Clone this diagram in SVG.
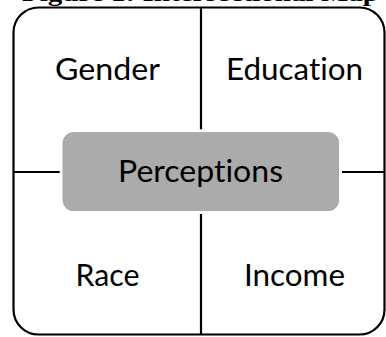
<svg xmlns="http://www.w3.org/2000/svg" width="386" height="337" viewBox="0 0 386 337">
<style>
.frame{fill:none;stroke:#000;stroke-width:2.2}
.line{stroke:#000;stroke-width:2.2;fill:none}
.lbl{font-family:Lato,"Liberation Sans",sans-serif;font-size:30px;fill:#000;text-anchor:middle;font-variant-ligatures:none}
.title{font-family:"Liberation Serif",serif;font-weight:bold;font-size:24px;fill:#000}
</style>
<rect width="386" height="337" fill="#fff"/>
<text class="title" x="22" y="0.8" textLength="357" lengthAdjust="spacingAndGlyphs">Figure 1: Intersectional Map</text>
<g id="frame">
<rect class="frame" x="13.5" y="7.5" width="371" height="327" rx="25" ry="25"/>
</g>
<g id="connectors">
<line class="line" x1="201" y1="7.5" x2="201" y2="334.5"/>
<line class="line" x1="13.5" y1="172" x2="384.5" y2="172"/>
</g>
<g id="gender"><text class="lbl" x="107.5" y="80" textLength="105" lengthAdjust="spacingAndGlyphs">Gender</text></g>
<g id="education"><text class="lbl" x="294.5" y="80" textLength="137" lengthAdjust="spacingAndGlyphs">Education</text></g>
<g id="race"><text class="lbl" x="107.5" y="285.5" textLength="64" lengthAdjust="spacingAndGlyphs">Race</text></g>
<g id="income"><text class="lbl" x="294.5" y="285.5" textLength="101" lengthAdjust="spacingAndGlyphs">Income</text></g>
<g id="perceptions">
<rect x="62.7" y="132.3" width="276.3" height="78.7" rx="11" ry="11" fill="#ababab" stroke="#fff" stroke-width="6" paint-order="stroke"/>
<rect x="62.7" y="132.3" width="276.3" height="78.7" rx="11" ry="11" fill="#ababab"/>
<text class="lbl" x="200.5" y="181.7" textLength="165" lengthAdjust="spacingAndGlyphs">Perceptions</text>
</g>
</svg>
